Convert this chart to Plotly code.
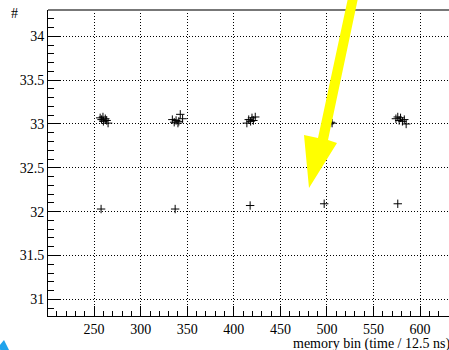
import plotly.graph_objects as go

# Data
cluster_x = [256.5, 258, 259.5, 260, 262, 263.5, 265,
             334, 336, 338, 340, 341, 342.5, 345,
             414, 416, 418, 419.5, 421, 423,
             501, 502.5, 504, 505.5,
             574, 576, 577.5, 579, 581, 583, 585]
cluster_y = [33.07, 33.05, 33.08, 33.03, 33.06, 33.04, 33.01,
             33.05, 33.02, 33.04, 33.01, 33.03, 33.11, 33.06,
             33.01, 33.05, 33.03, 33.07, 33.04, 33.08,
             33.03, 33.00, 33.02, 33.01,
             33.06, 33.08, 33.04, 33.07, 33.03, 33.05, 33.00]
single_x = [257.5, 337, 417.5, 497, 576]
single_y = [32.03, 32.03, 32.07, 32.09, 32.09]

x_ticks = [250, 300, 350, 400, 450, 500, 550, 600]
y_ticks = [31, 31.5, 32, 32.5, 33, 33.5, 34]
y_labels = ["31", "31.5", "32", "32.5", "33", "33.5", "34"]

W, H = 449, 350
L, R, T, B = 48, 0, 10, 34
pw, ph = W - L - R, H - T - B

def px(x, y):
    return ((x - L) / pw, (H - B - y) / ph)

def path(points):
    s = ""
    for i, (x, y) in enumerate(points):
        u, v = px(x, y)
        s += ("M" if i == 0 else "L") + f"{u:.4f},{v:.4f} "
    return s + "Z"

fig = go.Figure()
marker = dict(symbol="cross-thin", size=6, line=dict(color="black", width=1), color="black")
fig.add_trace(go.Scatter(x=cluster_x + single_x, y=cluster_y + single_y, mode="markers",
                         marker=marker, showlegend=False, cliponaxis=False, hoverinfo="skip"))

font = dict(family="'Times New Roman', 'Liberation Serif', 'DejaVu Serif', serif", size=14, color="black")

fig.update_xaxes(range=[200.5, 631], tickvals=x_ticks, ticks="inside", ticklen=10,
                 tickcolor="black", showline=True, linecolor="black", linewidth=1,
                 showgrid=True, gridcolor="black", griddash="1px,2px", gridwidth=1,
                 zeroline=False, tickfont=font,
                 minor=dict(dtick=10, ticks="inside", ticklen=5, tickcolor="black", showgrid=False))
fig.update_yaxes(range=[30.81, 34.3], tickvals=y_ticks, ticktext=y_labels,
                 ticks="inside", ticklen=12,
                 tickcolor="black", showline=True, linecolor="black", linewidth=1,
                 showgrid=True, gridcolor="black", griddash="1px,2px", gridwidth=1,
                 zeroline=False, tickfont=font, ticklabelstandoff=0,
                 minor=dict(dtick=0.1, ticks="inside", ticklen=6, tickcolor="black", showgrid=False))

shapes = [
    dict(type="line", xref="paper", yref="paper", x0=0, x1=1, y0=1, y1=1,
         line=dict(color="#777777", width=2)),
    dict(type="path", xref="paper", yref="paper", fillcolor="#FFFF00", line=dict(width=0),
         path=path([(348, -2), (358, -2), (328, 140), (337, 143), (309, 188), (304, 135), (318, 138)])),
    dict(type="path", xref="paper", yref="paper", fillcolor="#1FA3EC", line=dict(width=0),
         path=path([(-2, 347), (4, 340), (10, 352), (2, 352)])),
]

fig.update_layout(
    width=W, height=H, margin=dict(l=L, r=R, t=T, b=B),
    paper_bgcolor="white", plot_bgcolor="white",
    font=font, shapes=shapes,
    annotations=[
        dict(text="#", xref="paper", yref="paper", x=px(14, 0)[0], y=px(0, 14)[1],
             showarrow=False, font=font, xanchor="center", yanchor="middle"),
        dict(text="memory bin (time / 12.5 ns)", xref="paper", yref="paper",
             x=px(452, 0)[0], y=px(0, 344)[1], showarrow=False, font=font,
             xanchor="right", yanchor="middle"),
    ],
)

fig.write_html("out.html", config={"displayModeBar": False},
               post_script="document.body.style.margin='0';document.body.style.overflow='hidden';")
